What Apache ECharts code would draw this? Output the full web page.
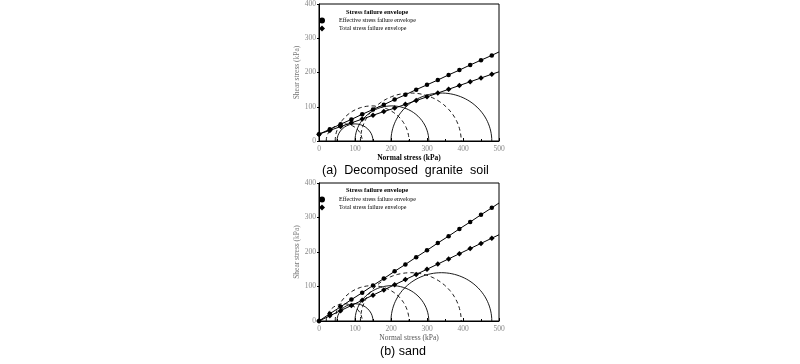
<!DOCTYPE html>
<html><head><meta charset="utf-8">
<script src="https://cdn.jsdelivr.net/npm/echarts@6/dist/echarts.min.js"></script>
<style>html,body{margin:0;padding:0;background:#fff}#c{width:800px;height:364px}</style>
</head><body><div id="c"></div>
<script>
// ---- data ----
const xTickValues = [0,100,200,300,400,500];
const yTickValues = [0,100,200,300,400];
const envelopeX = [0,30,60,90,120,150,180,210,240,270,300,330,360,390,420,450,480,500];
const graniteEffective = [20,34,49,63,78,92,106,121,135,150,164,178,193,207,222,236,250,260];
const graniteTotal     = [20,31,42,53,64,75,86,96,107,118,129,140,151,162,173,184,195,202];
const sandEffective    = [0,21,41,62,82,103,123,144,164,185,205,226,246,267,287,308,328,342];
const sandTotal        = [0,15,30,45,60,75,90,105,120,135,150,165,180,195,210,225,240,250];
// Mohr circles as [sigma3, sigma1]
const graniteSolidCircles  = [[50,150],[100,305],[200,480]];
const graniteDashedCircles = [[20,120],[45,250],[115,395]];
const sandSolidCircles     = [[50,150],[100,305],[200,480]];
const sandDashedCircles    = [[20,120],[45,250],[115,395]];

const EFF = 'Effective stress failure envelope';
const TOT = 'Total stress failure envelope';
const serif = 'Liberation Serif';

function semicircle(s3, s1){
  const c=(s1+s3)/2, r=(s1-s3)/2, pts=[];
  for(let i=0;i<=120;i++){const t=Math.PI*i/120; pts.push([c - r*Math.cos(t), r*Math.sin(t)]);}
  return pts;
}
function envData(ys){
  return envelopeX.map((x,i)=> i===envelopeX.length-1 ? {value:[x,ys[i]],symbol:'none'} : [x,ys[i]]);
}
function circleSeries(list, dashed, gi){
  return list.map(c=>({type:'line',xAxisIndex:gi,yAxisIndex:gi,data:semicircle(c[0],c[1]),showSymbol:false,symbol:'none',
    lineStyle:{color:'#000',width:0.9,type:dashed?[4,3]:'solid'},silent:true,z:2}));
}
function envSeries(name, ys, symbol, size, gi){
  return {type:'line',name,xAxisIndex:gi,yAxisIndex:gi,data:envData(ys),symbol,symbolSize:size,showSymbol:true,
    itemStyle:{color:'#000'},lineStyle:{color:'#000',width:1},z:3};
}
function xAx(gi, bold, gap){
  return {type:'value',gridIndex:gi,min:0,max:500,interval:100,
    name:'Normal stress (kPa)',nameLocation:'middle',nameGap:gap,
    nameTextStyle:{fontFamily:serif,fontSize:7.5,fontWeight:bold?'bold':'normal',color:bold?'#000':'#555'},
    axisLine:{lineStyle:{color:'#000',width:1}},
    axisTick:{inside:true,length:3,lineStyle:{color:'#000'}},
    minorTick:{show:true,splitNumber:2,length:2,lineStyle:{color:'#000'}},
    axisLabel:{fontFamily:serif,fontSize:7.5,color:'#888',margin:4},
    splitLine:{show:false}};
}
function yAx(gi){
  return {type:'value',gridIndex:gi,min:0,max:400,interval:100,
    name:'Shear stress (kPa)',nameLocation:'middle',nameGap:16,
    nameTextStyle:{fontFamily:serif,fontSize:7.5,color:'#777'},
    axisLine:{lineStyle:{color:'#000',width:1}},
    axisTick:{inside:false,length:2,lineStyle:{color:'#000'}},
    axisLabel:{fontFamily:serif,fontSize:7.5,color:'#888',margin:3},
    splitLine:{show:false}};
}
function legendAt(top){
  return {orient:'vertical',left:319,top,padding:0,itemGap:1,itemWidth:6,itemHeight:6,
    data:[{name:EFF,icon:'circle'},{name:TOT,icon:'diamond'}],
    textStyle:{fontFamily:serif,fontSize:6,color:'#000',padding:[0,0,0,9],lineHeight:7}};
}

const chart = echarts.init(document.getElementById('c'), null, {renderer:'canvas'});
chart.setOption({
  animation:false,
  title:[
    {text:'Stress failure envelope',left:346,top:9,padding:0,textStyle:{fontFamily:serif,fontSize:6.5,fontWeight:'bold',color:'#000'}},
    {text:'Stress failure envelope',left:346,top:187,padding:0,textStyle:{fontFamily:serif,fontSize:6.5,fontWeight:'bold',color:'#000'}},
    {text:'(a)  Decomposed  granite  soil',left:322,top:164,padding:0,textStyle:{fontFamily:'Liberation Sans',fontSize:12.5,fontWeight:'normal',color:'#000'}},
    {text:'(b) sand',left:380,top:345,padding:0,textStyle:{fontFamily:'Liberation Sans',fontSize:12.5,fontWeight:'normal',color:'#000'}}
  ],
  legend:[legendAt(17),legendAt(196)],
  grid:[
    {left:319,top:4,width:180,height:137,show:true,borderColor:'#000',borderWidth:1,backgroundColor:'transparent'},
    {left:319,top:183,width:180,height:138,show:true,borderColor:'#000',borderWidth:1,backgroundColor:'transparent'}
  ],
  xAxis:[xAx(0,true,10),xAx(1,false,11)],
  yAxis:[yAx(0),yAx(1)],
  series:[].concat(
    circleSeries(graniteSolidCircles,false,0),
    circleSeries(graniteDashedCircles,true,0),
    circleSeries(sandSolidCircles,false,1),
    circleSeries(sandDashedCircles,true,1),
    [envSeries(EFF,graniteEffective,'circle',4.5,0),
     envSeries(TOT,graniteTotal,'diamond',5.5,0),
     envSeries(EFF,sandEffective,'circle',4.5,1),
     envSeries(TOT,sandTotal,'diamond',5.5,1)]
  )
});
</script></body></html>
